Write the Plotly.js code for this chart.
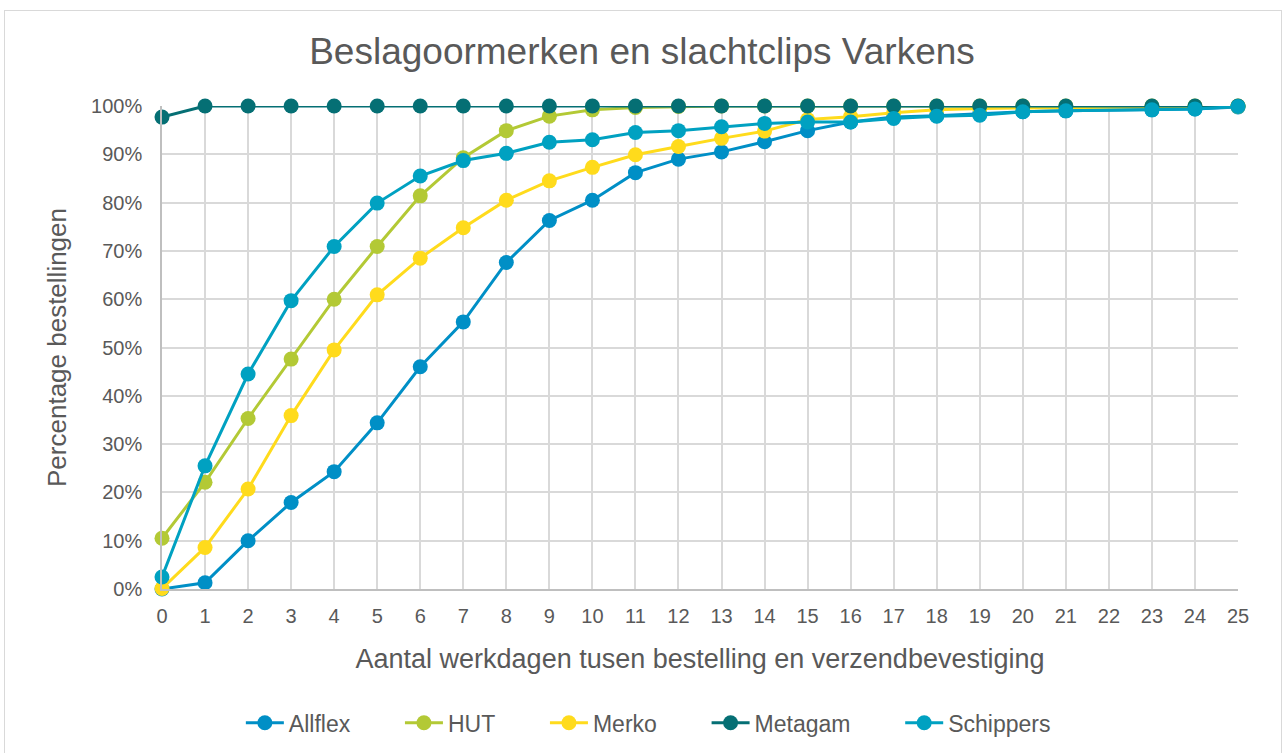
<!DOCTYPE html>
<html>
<head>
<meta charset="utf-8">
<script src="https://cdn.plot.ly/plotly-3.0.1.min.js"></script>
<style>
  body { margin: 0; background: #fff; }
  #chart { width: 1284px; height: 753px; }
  #frame { position: absolute; left: 4px; top: 10px; width: 1276px; height: 750px;
           border: 1px solid #D9D9D9; pointer-events: none; }
</style>
</head>
<body>
<div id="chart"></div>
<div id="frame"></div>
<script>
// werkdagen (dag 22 heeft geen waarde)
var days = [0,1,2,3,4,5,6,7,8,9,10,11,12,13,14,15,16,17,18,19,20,21,23,24,25];

var allflex   = [0, 1.3, 10, 17.9, 24.3, 34.4, 46, 55.3, 67.6, 76.3, 80.5, 86.2, 89.0, 90.5, 92.6, 94.9, 96.7, 97.7, 98.0, 98.4, 98.8, 99.0, 99.2, 99.4, 99.8];
var hut       = [10.5, 22.1, 35.3, 47.6, 60, 70.9, 81.4, 89.3, 94.9, 97.9, 99.2, 99.7, 99.9, 100, 100, 100, 100, 100, 100, 100, 100, 100, 100, 100, 100];
var merko     = [0.1, 8.6, 20.7, 35.9, 49.5, 60.9, 68.5, 74.8, 80.5, 84.5, 87.3, 89.9, 91.6, 93.3, 94.8, 97.2, 97.8, 98.6, 99.2, 99.5, 99.6, 99.7, 99.8, 99.8, 99.9];
var metagam   = [97.7, 100, 100, 100, 100, 100, 100, 100, 100, 100, 100, 100, 100, 100, 100, 100, 100, 100, 100, 100, 100, 100, 100, 100, 100];
var schippers = [2.5, 25.5, 44.5, 59.7, 70.9, 79.9, 85.5, 88.7, 90.2, 92.5, 93.0, 94.5, 94.9, 95.7, 96.4, 96.7, 96.7, 97.4, 97.9, 98.1, 98.8, 99.0, 99.2, 99.4, 99.9];

var names  = ['Allflex', 'HUT', 'Merko', 'Metagam', 'Schippers'];
var series = [allflex, hut, merko, metagam, schippers];
var colors = ['#008FC6', '#B3C935', '#FFDB1C', '#056F74', '#00A1C1'];

var gap = '\u00a0\u00a0\u00a0\u00a0\u00a0\u00a0\u00a0'; // extra ruimte tussen legenda-items
var traces = [];
for (var i = 0; i < names.length; i++) {
    traces.push({
        x: days,
        y: series[i],
        name: i < names.length - 1 ? names[i] + gap : names[i],
        type: 'scatter',
        mode: 'lines+markers',
        cliponaxis: false,
        line: { color: colors[i], width: 3 },
        marker: { color: colors[i], size: 15 }
    });
}

var txt = '#595959';
var layout = {
    width: 1284,
    height: 753,
    paper_bgcolor: '#fff',
    plot_bgcolor: '#fff',
    font: { family: 'Liberation Sans, Arial, sans-serif', color: txt },
    margin: { l: 162, r: 46, t: 106, b: 164, autoexpand: false },
    title: { text: 'Beslagoormerken en slachtclips Varkens', font: { size: 37, color: txt },
             x: 0.5, xanchor: 'center', y: 0.932, yanchor: 'middle' },
    xaxis: {
        range: [0, 25],
        tickmode: 'linear', tick0: 0, dtick: 1,
        showgrid: true, gridcolor: '#D9D9D9', gridwidth: 1.5,
        zeroline: false,
        showline: true, linecolor: '#BFBFBF', linewidth: 1.5,
        ticks: '', ticklabelstandoff: 8, tickfont: { size: 20, color: txt },
        title: { text: 'Aantal werkdagen tusen bestelling en verzendbevestiging',
                 font: { size: 27, color: txt }, standoff: 23 }
    },
    yaxis: {
        range: [0, 100],
        tickmode: 'linear', tick0: 0, dtick: 10, ticksuffix: '%',
        showgrid: true, gridcolor: '#D9D9D9', gridwidth: 1.5,
        zeroline: false,
        showline: true, linecolor: '#BFBFBF', linewidth: 1.5,
        ticks: '', ticklabelstandoff: 14, tickfont: { size: 20, color: txt },
        title: { text: 'Percentage bestellingen', font: { size: 26, color: txt }, standoff: 17 }
    },
    showlegend: true,
    legend: {
        orientation: 'h', x: 0.452, xanchor: 'center', y: -0.277, yanchor: 'middle',
        font: { size: 23, color: txt }, itemwidth: 38, traceorder: 'normal'
    }
};

Plotly.newPlot('chart', traces, layout, { displayModeBar: false });
</script>
</body>
</html>
